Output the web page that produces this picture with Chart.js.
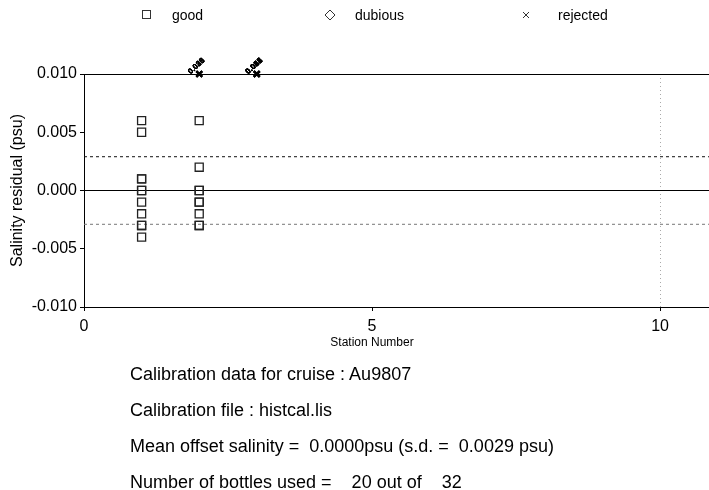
<!DOCTYPE html>
<html>
<head>
<meta charset="utf-8">
<script src="https://cdn.jsdelivr.net/npm/chart.js@4/dist/chart.umd.min.js"></script>
<style>
  body { margin: 0; background: #fff; }
  #wrap { position: relative; width: 709px; height: 490px; }
  #info { position: absolute; left: 130px; top: 356px; font-family: "Liberation Sans", Arial, sans-serif;
          font-size: 18px; color: #000; white-space: pre; line-height: 36px; }
</style>
</head>
<body>
<div id="wrap">
  <canvas id="chart" width="709" height="490"></canvas>
  <div id="info"></div>
</div>
<script>
// station numbers and salinity residuals (psu)
var goodStations = [1, 1, 1, 1, 1, 1, 1, 1, 1, 1, 1, 2, 2, 2, 2, 2, 2, 2, 2, 2];
var goodResiduals = [0.006, 0.005, 0.001, 0.001, 0.000, 0.000, -0.001, -0.002, -0.003, -0.003, -0.004,
                     0.006, 0.002, 0.000, 0.000, -0.001, -0.001, -0.002, -0.003, -0.003];
var dubiousStations = [];
var dubiousResiduals = [];
// rejected bottles are off scale, plotted at the top with their value written next to them
var rejectedStations = [2, 2, 2, 2, 2, 3, 3, 3, 3, 3, 3, 3];
var rejectedResiduals = [0.021, 0.025, 0.030, 0.033, 0.040, 0.018, 0.022, 0.027, 0.035, 0.044, 0.051, 0.062];

var yTicks = [-0.010, -0.005, 0.000, 0.005, 0.010];
var xTicks = [0, 5, 10];
var xMax = 10.85;
var meanOffset = 0.0000;
var stdDev = 0.0029;

var infoLines = [
  "Calibration data for cruise : Au9807",
  "Calibration file : histcal.lis",
  "Mean offset salinity =  0.0000psu (s.d. =  0.0029 psu)",
  "Number of bottles used =    20 out of    32"
];

var FONT = '"Liberation Sans", Arial, sans-serif';
var yMin = yTicks[0], yMax = yTicks[yTicks.length - 1];

function toPoints(xs, ys) {
  return xs.map(function(x, i) { return {x: x, y: Math.min(ys[i], yMax), v: ys[i]}; });
}

// legend row, x axis title and the rotated value labels of off-scale points
var extras = {
  id: 'extras',
  afterDatasetsDraw: function(chart) {
    var ctx = chart.ctx;
    ctx.save();
    var meta = chart.getDatasetMeta(2);
    ctx.fillStyle = '#000';
    ctx.font = 'bold 8px ' + FONT;
    ctx.textBaseline = 'middle';
    meta.data.forEach(function(el, i) {
      var p = chart.data.datasets[2].data[i];
      if (p.v > yMax) {
        ctx.save();
        ctx.translate(el.x - 10, el.y - 1);
        ctx.rotate(-0.75);
        ctx.fillText(p.v.toFixed(3), 0, 0);
        ctx.restore();
      }
    });

    // x axis title, centred under the middle tick as in the original
    var xs = chart.scales.x;
    ctx.font = '12px ' + FONT;
    ctx.textAlign = 'center';
    ctx.fillText('Station Number', xs.getPixelForValue(xTicks[1]), 343);
    ctx.textAlign = 'left';

    var ly = 15;
    ctx.strokeStyle = '#333';
    ctx.lineWidth = 1;
    ctx.strokeRect(142.5, ly - 4.5, 8, 8);
    ctx.beginPath();
    ctx.moveTo(330, ly - 5); ctx.lineTo(335, ly); ctx.lineTo(330, ly + 5); ctx.lineTo(325, ly); ctx.closePath();
    ctx.stroke();
    ctx.beginPath();
    ctx.moveTo(523, ly - 3); ctx.lineTo(529, ly + 3);
    ctx.moveTo(529, ly - 3); ctx.lineTo(523, ly + 3);
    ctx.stroke();
    ctx.font = '14px ' + FONT;
    ctx.fillText('good', 172, ly + 1);
    ctx.fillText('dubious', 355, ly + 1);
    ctx.fillText('rejected', 558, ly + 1);
    ctx.restore();
  }
};

function refLine(y, color) {
  return {
    type: 'line',
    data: [{x: 0, y: y}, {x: xMax, y: y}],
    borderColor: color,
    borderWidth: 1,
    borderDash: [3, 3],
    pointRadius: 0,
    fill: false
  };
}

var chart = new Chart('chart', {
  type: 'scatter',
  data: {
    datasets: [
      {
        label: 'good',
        data: toPoints(goodStations, goodResiduals),
        pointStyle: 'rect',
        radius: 5.7,
        borderColor: '#222',
        backgroundColor: 'rgba(0,0,0,0)',
        borderWidth: 1.3,
        clip: false
      },
      {
        label: 'dubious',
        data: toPoints(dubiousStations, dubiousResiduals),
        pointStyle: 'rectRot',
        radius: 5,
        borderColor: '#222',
        backgroundColor: 'rgba(0,0,0,0)',
        borderWidth: 1.3,
        clip: false
      },
      {
        label: 'rejected',
        data: toPoints(rejectedStations, rejectedResiduals),
        pointStyle: 'crossRot',
        radius: 4,
        borderColor: '#000',
        borderWidth: 2,
        clip: false
      },
      refLine(meanOffset + stdDev, '#111'),
      refLine(meanOffset - stdDev, '#777')
    ]
  },
  options: {
    responsive: false,
    animation: false,
    layout: { autoPadding: false, padding: { top: 74, left: 0, right: 0, bottom: 133 } },
    plugins: { legend: { display: false }, tooltip: { enabled: false } },
    scales: {
      x: {
        type: 'linear',
        min: 0,
        max: xMax,
        afterFit: function(s) { s.height = 50; s.paddingRight = 0; s.paddingLeft = 0; },
        afterBuildTicks: function(s) { s.ticks = xTicks.map(function(v) { return {value: v}; }); },
        ticks: { font: { family: FONT, size: 16 }, color: '#000', padding: 6 },
        grid: {
          color: function(c) { return c.tick && c.tick.value === 10 ? '#aaa' : 'rgba(0,0,0,0)'; },
          tickColor: '#000',
          tickLength: 4,
          tickBorderDash: []
        },
        border: { display: true, color: '#000', width: 1, dash: [1, 3] },
        title: { display: false }
      },
      y: {
        min: yMin,
        max: yMax,
        afterFit: function(s) { s.width = 84; },
        afterBuildTicks: function(s) { s.ticks = yTicks.map(function(v) { return {value: v}; }); },
        ticks: {
          font: { family: FONT, size: 16 }, color: '#000', padding: 3,
          callback: function(v) { return (Math.abs(v) < 1e-9 ? 0 : v).toFixed(3); }
        },
        grid: {
          color: function(c) {
            if (!c.tick) return 'rgba(0,0,0,0)';
            var v = c.tick.value;
            return (Math.abs(v) < 1e-9 || Math.abs(v - yMax) < 1e-9) ? '#000' : 'rgba(0,0,0,0)';
          },
          tickColor: '#000',
          tickLength: 4
        },
        border: { display: true, color: '#000', width: 1 },
        title: { display: true, text: 'Salinity residual (psu)', color: '#000',
                 font: { family: FONT, size: 16 }, padding: { top: 8, bottom: 0 } }
      }
    }
  },
  plugins: [extras]
});

document.getElementById('info').textContent = infoLines.join('\n');
</script>
</body>
</html>
